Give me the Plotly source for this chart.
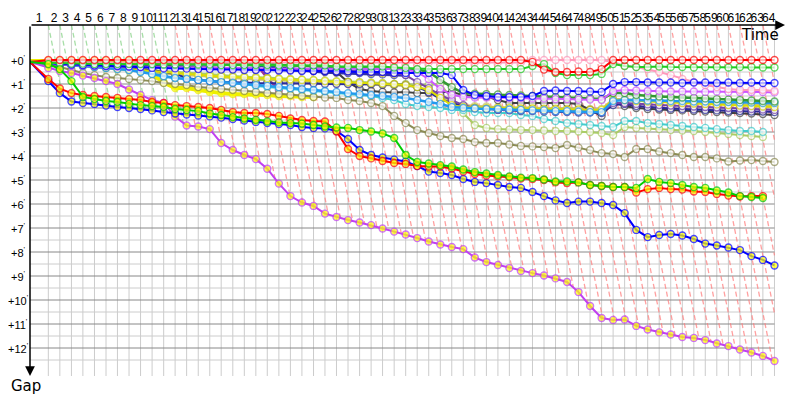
import numpy as np
import plotly.graph_objects as go

# ---------------- data ----------------
lap_numbers = list(range(1, 65))
# leader lap times (s) -> x positions (leader race time)
leader_lap_s = [229, 144, 145, 143, 145, 144, 143, 145, 144, 144,
                145, 143, 144, 145, 144, 143, 145, 144, 144, 143,
                145, 144, 144, 145, 143, 144, 144, 145, 144, 143,
                145, 144, 144, 144, 145, 143, 144, 144, 145, 144,
                143, 144, 145, 144, 144, 144, 143, 145, 144, 144,
                144, 145, 143, 144, 144, 145, 144, 143, 144, 145,
                144, 144, 143, 145]

gap_ticks = list(range(0, 13))
gap_tick_text = ["+%d'" % g for g in gap_ticks]

# gaps to leader in minutes, lap 0..n
red_leader = [0.08,
              0.00, 0.00, 0.00, 0.00, 0.00, 0.00, 0.00, 0.00, 0.00, 0.00,
              0.00, 0.00, 0.00, 0.00, 0.00, 0.00, 0.00, 0.00, 0.00, 0.00,
              0.00, 0.00, 0.00, 0.00, 0.00, 0.00, 0.00, 0.00, 0.00, 0.00,
              0.00, 0.00, 0.00, 0.00, 0.00, 0.00, 0.00, 0.00, 0.00, 0.00,
              0.00, 0.00, 0.08, 0.40, 0.50, 0.50, 0.48, 0.50, 0.38, 0.00,
              0.00, 0.00, 0.00, 0.00, 0.00, 0.00, 0.00, 0.00, 0.00, 0.00,
              0.00, 0.00, 0.00, 0.00]
pink = [0.08,
        0.10, 0.10, 0.10, 0.10, 0.10, 0.10, 0.11, 0.11, 0.11, 0.11,
        0.12, 0.12, 0.12, 0.12, 0.12, 0.12, 0.12, 0.12, 0.12, 0.12,
        0.12, 0.12, 0.12, 0.12, 0.12, 0.12, 0.12, 0.12, 0.12, 0.12,
        0.10, 0.10, 0.10, 0.10, 0.10, 0.10, 0.10, 0.10, 0.10, 0.10,
        0.10, 0.10, 0.00, 0.00, 0.00, 0.00, 0.00, 0.00, 0.00, 0.08,
        0.25, 0.29, 0.38, 0.50, 0.63, 0.79, 0.92, 1.04, 1.13, 1.21,
        1.25, 1.25, 1.25, 1.29]
green = [0.08,
         0.13, 0.13, 0.15, 0.15, 0.17, 0.17, 0.17, 0.17, 0.17, 0.17,
         0.19, 0.19, 0.19, 0.19, 0.19, 0.21, 0.21, 0.21, 0.21, 0.21,
         0.23, 0.23, 0.23, 0.23, 0.23, 0.27, 0.27, 0.27, 0.27, 0.27,
         0.31, 0.33, 0.38, 0.38, 0.38, 0.38, 0.38, 0.38, 0.38, 0.38,
         0.38, 0.38, 0.25, 0.17, 0.54, 0.63, 0.63, 0.63, 0.58, 0.17,
         0.25, 0.29, 0.29, 0.27, 0.29, 0.29, 0.31, 0.29, 0.29, 0.31,
         0.29, 0.29, 0.31, 0.31]
blue = [0.08,
        0.15, 0.17, 0.19, 0.21, 0.23, 0.25, 0.25, 0.27, 0.29, 0.33,
        0.35, 0.35, 0.36, 0.38, 0.38, 0.40, 0.40, 0.42, 0.42, 0.42,
        0.44, 0.44, 0.46, 0.46, 0.46, 0.48, 0.48, 0.50, 0.50, 0.50,
        0.54, 0.54, 0.54, 0.54, 0.54, 0.63, 1.25, 1.46, 1.50, 1.54,
        1.54, 1.54, 1.50, 1.29, 1.27, 1.29, 1.29, 1.31, 1.33, 1.00,
        0.92, 0.92, 0.94, 0.94, 0.94, 0.96, 0.94, 0.94, 0.96, 0.94,
        0.96, 0.94, 0.96, 0.96]
magenta = [0.08,
           0.17, 0.19, 0.21, 0.23, 0.25, 0.25, 0.27, 0.27, 0.29, 0.29,
           0.31, 0.31, 0.31, 0.33, 0.33, 0.33, 0.33, 0.33, 0.35, 0.35,
           0.35, 0.35, 0.35, 0.35, 0.38, 0.38, 0.38, 0.38, 0.38, 0.38,
           0.38, 0.40, 0.50, 0.80, 1.20, 1.45, 1.54, 1.56, 1.56, 1.58,
           1.58, 1.58, 1.60, 1.60, 1.63, 1.63, 1.65, 1.65, 1.67, 1.30,
           1.25, 1.27, 1.29, 1.29, 1.31, 1.31, 1.31, 1.33, 1.31, 1.33,
           1.33, 1.33, 1.33, 1.35]
dark_green = [0.08,
              0.10, 0.10, 0.10, 0.10, 0.12, 0.12, 0.12, 0.12, 0.13, 0.13,
              0.13, 0.13, 0.13, 0.13, 0.15, 0.15, 0.15, 0.15, 0.15, 0.15,
              0.21, 0.23, 0.25, 0.27, 0.29, 0.31, 0.33, 0.33, 0.35, 0.35,
              0.38, 0.38, 0.40, 0.50, 0.83, 1.13, 1.38, 1.40, 1.42, 1.44,
              1.46, 1.48, 1.50, 1.52, 1.54, 1.56, 1.58, 1.60, 1.63, 1.38,
              1.38, 1.46, 1.50, 1.52, 1.54, 1.56, 1.58, 1.60, 1.63, 1.65,
              1.67, 1.69, 1.71, 1.73]
azure = [0.08,
         0.13, 0.17, 0.21, 0.25, 0.29, 0.33, 0.38, 0.42, 0.50, 0.58,
         0.67, 0.75, 0.79, 0.83, 0.88, 0.92, 0.96, 1.00, 1.04, 1.08,
         1.13, 1.17, 1.21, 1.25, 1.29, 1.33, 1.38, 1.42, 1.46, 1.50,
         1.54, 1.58, 1.67, 1.75, 1.83, 1.96, 2.00, 2.02, 2.04, 2.04,
         2.06, 2.08, 2.10, 2.10, 2.13, 2.13, 2.15, 2.17, 2.17, 1.71,
         1.67, 1.67, 1.69, 1.69, 1.71, 1.71, 1.73, 1.73, 1.75, 1.75,
         1.77, 1.77, 1.79, 1.79]
yellow = [0.08,
          0.13, 0.15, 0.17, 0.21, 0.25, 0.29, 0.33, 0.38, 0.42, 0.46,
          0.50, 0.54, 0.58, 0.63, 0.67, 0.69, 0.71, 0.73, 0.75, 0.77,
          0.79, 0.81, 0.83, 0.85, 0.88, 0.90, 0.92, 0.94, 0.96, 0.98,
          1.00, 1.04, 1.13, 1.25, 1.58, 1.88, 1.96, 1.98, 2.00, 2.00,
          2.00, 2.02, 2.02, 2.04, 2.04, 2.06, 2.06, 2.08, 2.08, 1.67,
          1.67, 1.71, 1.73, 1.75, 1.77, 1.79, 1.81, 1.83, 1.85, 1.88,
          1.90, 1.92, 1.94, 1.96]
violet = [0.08,
          0.15, 0.17, 0.19, 0.20, 0.21, 0.23, 0.24, 0.25, 0.27, 0.28,
          0.29, 0.30, 0.31, 0.32, 0.33, 0.34, 0.35, 0.36, 0.37, 0.38,
          0.39, 0.40, 0.41, 0.42, 0.43, 0.44, 0.45, 0.46, 0.48, 0.50,
          0.54, 0.63, 0.92, 1.17, 1.46, 1.67, 1.88, 2.00, 2.04, 2.06,
          2.08, 2.08, 2.10, 2.10, 2.13, 2.13, 2.15, 2.15, 2.17, 1.79,
          1.79, 1.83, 1.85, 1.88, 1.90, 1.92, 1.94, 1.96, 1.98, 2.00,
          2.02, 2.04, 2.06, 2.08]
navy = [0.08,
        0.17, 0.19, 0.21, 0.23, 0.25, 0.29, 0.31, 0.33, 0.38, 0.42,
        0.50, 0.58, 0.75, 0.83, 0.88, 0.92, 0.92, 0.94, 0.96, 0.96,
        0.96, 0.98, 0.98, 0.98, 1.00, 1.00, 1.00, 1.00, 1.00, 1.02,
        1.02, 1.04, 1.13, 1.33, 1.63, 1.79, 1.92, 2.00, 2.04, 2.08,
        2.10, 2.13, 2.13, 2.15, 2.17, 2.17, 2.19, 2.19, 2.21, 1.88,
        1.83, 1.92, 1.96, 2.00, 2.02, 2.04, 2.06, 2.08, 2.10, 2.13,
        2.13, 2.15, 2.15, 2.17]
dark_gray = [0.08,
             0.13, 0.15, 0.17, 0.17, 0.19, 0.21, 0.21, 0.23, 0.25, 0.25,
             0.27, 0.27, 0.29, 0.31, 0.31, 0.33, 0.35, 0.35, 0.38, 0.38,
             0.40, 0.40, 0.42, 0.42, 0.46, 0.50, 0.92, 1.21, 1.29, 1.33,
             1.35, 1.33, 1.38, 1.38, 1.33, 1.33, 1.46, 1.50, 1.52, 1.67,
             1.79, 1.79, 1.79, 1.79, 1.79, 1.79, 1.83, 2.08, 2.33, 1.75,
             1.92, 2.00, 2.04, 2.06, 2.08, 2.10, 2.13, 2.15, 2.17, 2.19,
             2.21, 2.23, 2.25, 2.29]
cyan = [0.08,
        0.13, 0.15, 0.19, 0.23, 0.27, 0.31, 0.35, 0.40, 0.46, 0.58,
        0.71, 0.75, 0.79, 0.83, 0.88, 0.92, 0.96, 1.00, 1.08, 1.13,
        1.17, 1.21, 1.25, 1.29, 1.33, 1.38, 1.42, 1.46, 1.50, 1.58,
        1.67, 1.83, 1.92, 1.96, 2.00, 2.08, 2.08, 2.17, 2.21, 2.21,
        2.21, 2.29, 2.33, 2.46, 2.54, 2.63, 2.67, 2.71, 2.75, 2.79,
        2.54, 2.54, 2.63, 2.67, 2.71, 2.75, 2.79, 2.83, 2.88, 2.92,
        2.96, 2.96, 3.00]
light_olive = [0.08,
               0.13, 0.15, 0.17, 0.21, 0.25, 0.29, 0.33, 0.35, 0.38, 0.42,
               0.46, 0.50, 0.54, 0.58, 0.60, 0.63, 0.67, 0.69, 0.71, 0.75,
               0.77, 0.79, 0.81, 0.83, 0.85, 0.88, 0.90, 0.92, 0.94, 0.96,
               1.00, 1.00, 1.04, 1.04, 1.00, 1.58, 2.21, 2.71, 2.83, 2.88,
               2.90, 2.92, 2.92, 2.94, 2.96, 2.96, 2.98, 3.00, 3.04, 3.13,
               2.79, 2.83, 2.85, 2.88, 2.92, 2.94, 2.96, 3.00, 3.04, 3.08,
               3.13, 3.17, 3.21]
olive = [0.08,
         0.17, 0.29, 0.42, 0.54, 0.63, 0.71, 0.75, 0.79, 0.83, 0.88,
         0.96, 1.00, 1.04, 1.13, 1.17, 1.21, 1.25, 1.29, 1.33, 1.38,
         1.42, 1.46, 1.50, 1.54, 1.56, 1.58, 1.67, 1.71, 1.79, 1.92,
         2.33, 2.63, 2.92, 3.04, 3.17, 3.25, 3.29, 3.42, 3.46, 3.46,
         3.52, 3.58, 3.60, 3.63, 3.67, 3.54, 3.65, 3.75, 3.88, 3.92,
         4.04, 3.71, 3.71, 3.81, 3.88, 3.96, 4.04, 4.04, 4.10, 4.23,
         4.19, 4.17, 4.21, 4.25]
khaki = [0.08,
         0.15, 0.19, 0.23, 0.27, 0.31, 0.35, 0.40, 0.44, 0.48, 0.52,
         0.56, 0.60, 0.63, 0.67, 0.71, 0.75, 0.77, 0.79, 0.81, 0.83,
         0.85, 0.88, 0.90, 0.92, 0.94, 0.96, 0.98, 1.00, 1.02, 1.04,
         1.06, 1.08, 1.13, 1.25, 1.50, 1.75, 1.88, 1.92, 1.94, 1.96,
         1.96, 1.98, 1.98, 2.00, 2.00, 2.02, 2.02, 2.04, 2.04, 1.63,
         1.63, 1.67, 1.69, 1.71, 1.73, 1.75, 1.77, 1.79, 1.81, 1.83,
         1.85, 1.86, 1.88, 1.88]
yellow_retired = [0.04,
                  0.04, 0.04, 0.04, 0.04, 0.04, 0.04, 0.04, 0.04, 0.25, 0.58,
                  0.94, 1.17, 1.17, 1.25, 1.33, 1.38, 1.42, 1.42, 1.44, 1.46,
                  1.50, 1.50, 1.54, 1.54]
indigo_retired = [0.08,
                  0.13, 0.13, 0.13, 0.15, 0.15, 0.15, 0.17, 0.17, 0.19, 0.21,
                  0.19, 0.17, 0.17, 0.17, 0.17, 0.15, 0.15, 0.17, 0.21, 0.25,
                  0.33, 0.38, 0.42, 0.46, 0.50, 0.52, 0.54, 0.54, 0.58, 0.60,
                  0.63, 0.63]
plum_retired = [0.08,
                0.10, 0.10, 0.10, 0.10, 0.10, 0.10, 0.10, 0.10, 0.10, 0.10,
                0.10, 0.10, 0.10, 0.10, 0.10, 0.10, 0.10, 0.13, 0.17, 0.75,
                1.25]

# lapped cars (yellow markers)
red_lapped = [0.08,
              0.79, 1.19, 1.38, 1.46, 1.50, 1.54, 1.58, 1.63, 1.67, 1.75,
              1.79, 1.88, 1.92, 1.96, 2.00, 2.08, 2.17, 2.21, 2.21, 2.25,
              2.33, 2.44, 2.50, 2.54, 2.56, 2.98, 3.71, 4.00, 4.10, 4.21,
              4.29, 4.33, 4.42, 4.44, 4.44, 4.52, 4.65, 4.75, 4.81, 4.85,
              4.88, 4.94, 4.96, 5.00, 5.10, 5.13, 5.10, 5.21, 5.25, 5.29,
              5.29, 5.52, 5.38, 5.33, 5.38, 5.40, 5.48, 5.50, 5.58, 5.65,
              5.69, 5.67, 5.67]
green_lapped = [0.08,
                0.17, 0.38, 0.88, 1.54, 1.63, 1.71, 1.75, 1.83, 1.88, 1.92,
                1.96, 2.04, 2.08, 2.13, 2.23, 2.29, 2.38, 2.44, 2.50, 2.56,
                2.60, 2.63, 2.65, 2.71, 2.77, 2.81, 2.83, 2.92, 2.98, 3.06,
                3.25, 3.96, 4.25, 4.31, 4.38, 4.44, 4.56, 4.67, 4.73, 4.79,
                4.85, 4.90, 4.92, 4.98, 5.06, 5.06, 5.10, 5.21, 5.25, 5.29,
                5.29, 5.33, 4.96, 5.08, 5.13, 5.21, 5.29, 5.33, 5.44, 5.52,
                5.67, 5.71, 5.75]
blue_lapped = [0.08,
               0.88, 1.38, 1.73, 1.79, 1.83, 1.90, 1.96, 2.00, 2.04, 2.10,
               2.17, 2.23, 2.27, 2.31, 2.35, 2.40, 2.46, 2.52, 2.58, 2.63,
               2.67, 2.71, 2.79, 2.83, 2.85, 2.96, 3.29, 3.75, 3.96, 4.06,
               4.15, 4.23, 4.42, 4.65, 4.71, 4.79, 4.96, 5.08, 5.13, 5.21,
               5.29, 5.33, 5.50, 5.67, 5.85, 5.96, 5.90, 5.90, 5.96, 6.04,
               6.38, 7.08, 7.38, 7.29, 7.25, 7.31, 7.46, 7.65, 7.73, 7.81,
               7.92, 8.17, 8.33, 8.56]
purple_lapped = [0.08,
                 0.33, 0.46, 0.54, 0.65, 0.75, 0.88, 1.00, 1.23, 1.46, 1.67,
                 1.79, 2.36, 2.73, 2.77, 2.88, 3.46, 3.75, 3.96, 4.13, 4.53,
                 5.15, 5.67, 5.94, 6.08, 6.40, 6.54, 6.67, 6.77, 6.88, 7.02,
                 7.15, 7.27, 7.42, 7.56, 7.69, 7.79, 7.88, 8.23, 8.42, 8.54,
                 8.67, 8.79, 8.88, 8.98, 9.10, 9.25, 9.67, 10.25, 10.75, 10.83,
                 10.81, 11.08, 11.23, 11.35, 11.44, 11.54, 11.58, 11.67, 11.81, 11.92,
                 12.06, 12.19, 12.33, 12.54]

# ---------------- layout helpers ----------------
T = np.concatenate([[0.0], np.cumsum(leader_lap_s)])   # leader time at lap n
X_MAX = 9437.5
G_TOP = -35.0 / 24.0
G_BOT = 316.0 / 24.0
DASH_S_PER_MIN = 60.0

# page has an 8px body margin: figure is placed at (8, 8) in the window
OFF = 8
W, H = 800 - OFF, 400 - OFF
ML, MR, MT, MB = 30 - OFF, 15, 25 - OFF, 24
PW, PH = W - ML - MR, H - MT - MB

FONT = "DejaVu Sans"
LABEL_FONT = "Liberation Sans"

fig = go.Figure()

# vertical lap grid
vx, vy = [], []
for t in T[1:]:
    vx += [t, t, None]
    vy += [G_TOP, G_BOT, None]
fig.add_trace(go.Scatter(x=vx, y=vy, mode="lines", line=dict(color="#cccccc", width=1),
                         hoverinfo="skip"))
# minor horizontal grid
hx, hy = [], []
for g in gap_ticks:
    hx += [0, T[-1], None]
    hy += [g + 0.5, g + 0.5, None]
fig.add_trace(go.Scatter(x=hx, y=hy, mode="lines", line=dict(color="#cccccc", width=1),
                         hoverinfo="skip"))
# major horizontal grid
hx, hy = [], []
for g in gap_ticks:
    hx += [0, T[-1], None]
    hy += [g, g, None]
fig.add_trace(go.Scatter(x=hx, y=hy, mode="lines", line=dict(color="#888888", width=1),
                         hoverinfo="skip"))

top_series = [
    (plum_retired, "#993399", "#ffffff", 2.5),
    (indigo_retired, "#3030b0", "#ffff00", 3.5),
    (yellow_retired, "#eeee00", "#ffff00", 4),
    (khaki, "#c8c070", "#ffffff", 2),
    (light_olive, "#aacc66", "#ffffff", 2),
    (cyan, "#44cccc", "#ffffff", 2),
    (olive, "#8c8c55", "#ffffff", 2),
    (dark_gray, "#404040", "#ffffff", 2),
    (navy, "#2a2a99", "#ffffff", 2),
    (violet, "#7744aa", "#ffffff", 2),
    (yellow, "#dddd00", "#ffffff", 2),
    (azure, "#2299ee", "#ffffff", 2.5),
    (dark_green, "#339933", "#ffffff", 2.5),
    (magenta, "#cc55ff", "#ffffff", 2),
    (pink, "#ff99bb", "#ffffff", 2),
    (blue, "#0000ff", "#ffffff", 2),
    (green, "#22cc22", "#ffffff", 2),
    (red_leader, "#ff0000", "#ffffff", 2),
]
low_series = [
    (purple_lapped, "#c040f0", "#ffff00", 2),
    (blue_lapped, "#0000ff", "#ffff00", 2),
    (red_lapped, "#ff0000", "#ffff00", 2),
    (green_lapped, "#00cc00", "#ffff00", 2),
]
all_series = top_series + low_series

# lowest car envelope for the lap lines
env = np.zeros(len(T))
for s, *_ in all_series:
    arr = np.array(s)
    env[:len(arr)] = np.maximum(env[:len(arr)], arr)

dash_green_x, dash_green_y, dash_red_x, dash_red_y = [], [], [], []
for n in range(1, len(T)):
    g = G_TOP
    x = T[n]
    while True:
        g_next = g + 0.02
        x_next = T[n] + DASH_S_PER_MIN * (g_next - G_TOP)
        if x_next > T[-1] or g_next >= np.interp(x_next, T, env) or g_next > G_BOT:
            break
        g, x = g_next, x_next
    if n <= 11:
        dash_green_x += [T[n], x, None]
        dash_green_y += [G_TOP, g, None]
    else:
        dash_red_x += [T[n], x, None]
        dash_red_y += [G_TOP, g, None]
fig.add_trace(go.Scatter(x=dash_green_x, y=dash_green_y, mode="lines",
                         line=dict(color="rgba(120,205,120,0.65)", width=1.3, dash="5px,3px"),
                         hoverinfo="skip"))
fig.add_trace(go.Scatter(x=dash_red_x, y=dash_red_y, mode="lines",
                         line=dict(color="rgba(255,120,120,0.7)", width=1.3, dash="5px,3px"),
                         hoverinfo="skip"))

for vals, col, fill, w in all_series:
    n = len(vals)
    sizes = [0] + [7] * (n - 1)
    fig.add_trace(go.Scatter(
        x=T[:n], y=vals, mode="lines+markers",
        line=dict(color=col, width=w),
        marker=dict(size=sizes, color=fill, line=dict(color=col, width=1.4)),
        hoverinfo="skip"))

# lap labels centred between lap lines
centers = [(T[i] + T[i + 1]) / 2 for i in range(len(lap_numbers))]


def px_x(wx):
    """window x pixel -> paper x"""
    return (wx - OFF - ML) / PW


def px_y(wy):
    """window y pixel -> paper y"""
    return 1 - (wy - OFF - MT) / PH


annotations = []
for g, txt in zip(gap_ticks, gap_tick_text):
    annotations.append(dict(x=px_x(18), y=g, xref="paper", yref="y",
                            text=txt.replace("'", "<sup>'</sup>"), showarrow=False,
                            xanchor="center", yanchor="middle",
                            font=dict(family=LABEL_FONT, size=11, color="black")))
# axes arrows
annotations.append(dict(x=1, y=1, xref="paper", yref="paper", ax=-PW, ay=0,
                        showarrow=True, arrowhead=2, arrowsize=1.3, arrowwidth=1.5,
                        arrowcolor="black", text=""))
annotations.append(dict(x=0, y=0, xref="paper", yref="paper", ax=0, ay=-PH,
                        showarrow=True, arrowhead=2, arrowsize=1.3, arrowwidth=1.5,
                        arrowcolor="black", text=""))
annotations.append(dict(x=px_x(760), y=px_y(35), xref="paper", yref="paper",
                        text="Time", showarrow=False, xanchor="center", yanchor="middle",
                        font=dict(family=FONT, size=15, color="black")))
annotations.append(dict(x=px_x(26), y=px_y(386), xref="paper", yref="paper",
                        text="Gap", showarrow=False, xanchor="center", yanchor="middle",
                        font=dict(family=FONT, size=15, color="black")))

fig.update_layout(
    width=W, height=H,
    margin=dict(l=ML, r=MR, t=MT, b=MB, autoexpand=False),
    plot_bgcolor="white", paper_bgcolor="white",
    showlegend=False,
    xaxis=dict(range=[0, X_MAX], side="top", tickmode="array", tickvals=centers,
               ticktext=[str(n) for n in lap_numbers], tickangle=0, ticks="",
               tickfont=dict(family=LABEL_FONT, size=12, color="black"), automargin=False,
               showgrid=False, zeroline=False, showline=False, fixedrange=True),
    yaxis=dict(range=[G_BOT, G_TOP], showticklabels=False, showgrid=False, automargin=False,
               zeroline=False, showline=False, fixedrange=True),
    annotations=annotations,
)

fig.write_html("out.html")
